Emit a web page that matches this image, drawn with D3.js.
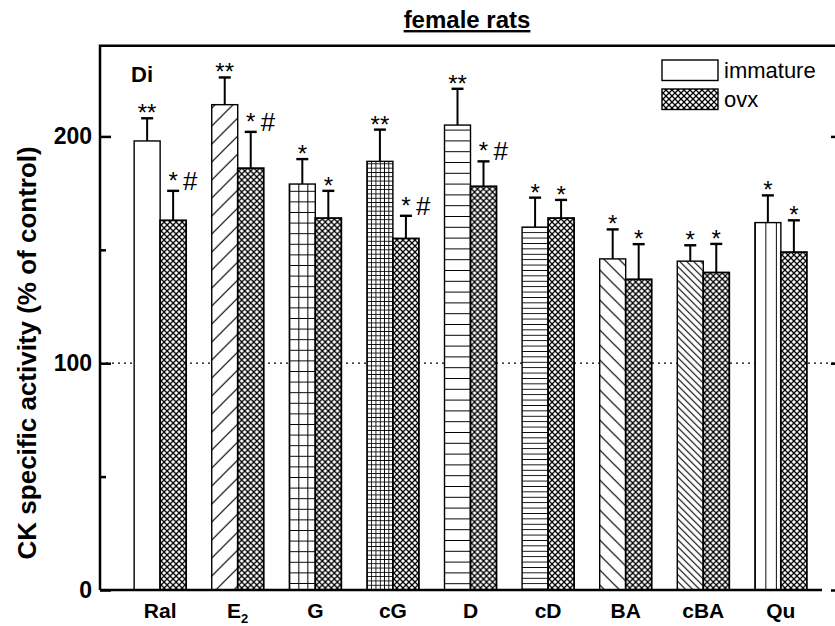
<!DOCTYPE html>
<html>
<head>
<meta charset="utf-8">
<script src="https://cdn.jsdelivr.net/npm/d3@7/dist/d3.min.js"></script>
<style>
  html, body { margin: 0; padding: 0; background: #fff; }
  svg { display: block; font-family: "Liberation Sans", Arial, sans-serif; }
</style>
</head>
<body>
<svg id="chart" width="835" height="626"></svg>
<script>
// Treatments on the x axis
const categories = ["Ral", "E2", "G", "cG", "D", "cD", "BA", "cBA", "Qu"];
const groups = ["immature", "ovx"];

// CK specific activity, % of control (mean and SD)
const immature    = [198, 214, 179, 189, 205, 160, 146, 145, 162];
const immatureErr = [10, 12, 11, 14, 16, 13, 13, 7, 12];
const ovx         = [163, 186, 164, 155, 178, 164, 137, 140, 149];
const ovxErr      = [13, 16, 12, 10, 11, 8, 15.5, 12.6, 14];

// significance marks
const immatureStars = ["**", "**", "*", "**", "**", "*", "*", "*", "*"];
const ovxStars      = ["*", "*", "*", "*", "*", "*", "*", "*", "*"];
const ovxHash       = [true, true, false, true, true, false, false, false, false];

const yTicks = [0, 100, 200];
const yMinorTicks = [50, 150];
const controlLevel = 100;

const svg = d3.select("#chart");
const plotL = 100, plotR = 841, plotT = 45.7, plotB = 590;

const y = d3.scaleLinear().domain([0, 240]).range([plotB, plotT]);
const x0 = d3.scaleBand().domain(categories).range([plotL, plotR])
  .paddingInner(0.33).paddingOuter(0.44);
const x1 = d3.scaleBand().domain(groups).range([0, x0.bandwidth()]);

// ---- fill patterns ----
const defs = svg.append("defs");
function pat(id, w, h, draw, sw, aa) {
  const p = defs.append("pattern").attr("id", id)
    .attr("patternUnits", "userSpaceOnUse").attr("width", w).attr("height", h);
  p.append("rect").attr("width", w).attr("height", h).attr("fill", "#fff");
  if (draw) p.append("path").attr("d", draw).attr("stroke", "#000")
    .attr("stroke-width", sw).attr("fill", "none")
    .attr("shape-rendering", aa ? "auto" : "crispEdges");
  return p;
}
pat("p0", 10, 10, null, 1);
pat("p1", 18, 18, "M-2,20L20,-2 M-2,2L2,-2 M16,20L20,16", 1.2, true);
pat("p2", 9, 10.6, "M0,0.5H9 M0.5,0V10.6", 1);
pat("p3", 4.3, 4.3, "M0,0.5H4.3 M0.5,0V4.3", 1);
pat("p4", 10, 10.8, "M0,0.5H10", 1.2);
pat("p5", 10, 5.4, "M0,0.5H10", 1.2);
pat("p6", 15, 15, "M-2,-2L17,17 M-2,13L2,17 M13,-2L17,2", 1.2, true);
pat("p7", 7, 7, "M-2,-2L9,9 M-2,5L2,9 M5,-2L9,2", 1.1, true);
pat("p8", 10.5, 10, "M0.5,0V10", 1.2);
pat("pov", 6, 6, "M-1,-1L7,7 M-1,7L7,-1", 1.3, true);

const catPattern = (i) => "url(#p" + i + ")";

// ---- control line ----
svg.append("line")
  .attr("x1", plotL).attr("x2", plotR)
  .attr("y1", y(controlLevel)).attr("y2", y(controlLevel))
  .attr("stroke", "#000").attr("stroke-width", 1.3)
  .attr("stroke-dasharray", "2,4");

// ---- bars ----
const rows = categories.map((c, i) => ({
  cat: c, i,
  bars: [
    { g: "immature", v: immature[i], e: immatureErr[i], s: immatureStars[i], hash: false },
    { g: "ovx", v: ovx[i], e: ovxErr[i], s: ovxStars[i], hash: ovxHash[i] }
  ]
}));

const gCat = svg.append("g").selectAll("g").data(rows).join("g")
  .attr("transform", d => `translate(${x0(d.cat)},0)`);

// error bars (drawn first so the bar outline covers their base)
gCat.each(function (d) {
  const g = d3.select(this);
  d.bars.forEach(b => {
    const cx = x1(b.g) + x1.bandwidth() / 2;
    g.append("line").attr("x1", cx).attr("x2", cx)
      .attr("y1", y(b.v)).attr("y2", y(b.v + b.e))
      .attr("stroke", "#000").attr("stroke-width", 2);
    g.append("line").attr("x1", cx - 6).attr("x2", cx + 6)
      .attr("y1", y(b.v + b.e)).attr("y2", y(b.v + b.e))
      .attr("stroke", "#000").attr("stroke-width", 2.4);
  });
});

gCat.each(function (d) {
  const g = d3.select(this);
  d.bars.forEach(b => {
    g.append("rect")
      .attr("x", x1(b.g)).attr("width", x1.bandwidth())
      .attr("y", y(b.v)).attr("height", y(0) - y(b.v))
      .attr("fill", b.g === "ovx" ? "url(#pov)" : catPattern(d.i))
      .attr("stroke", "#000")
      .attr("stroke-width", b.g === "ovx" ? 1.8 : 1.4);
  });
});

// significance marks
gCat.each(function (d) {
  const g = d3.select(this);
  d.bars.forEach(b => {
    const cx = x1(b.g) + x1.bandwidth() / 2;
    const et = y(b.v + b.e);
    const lift = b.hash ? 5 : 0;
    g.append("text").attr("x", cx).attr("y", et + 3 - lift)
      .attr("text-anchor", "middle").attr("font-size", 24).text(b.s);
    if (b.hash) {
      g.append("text").attr("x", cx + 10).attr("y", et - 1)
        .attr("text-anchor", "start").attr("font-size", 26).text("#");
    }
  });
});

// ---- axes ----
const axisW = 2.5;
function styleAxis(sel) {
  sel.select(".domain").remove();
  sel.selectAll(".tick line").attr("stroke", "#000").attr("stroke-width", axisW);
}
svg.append("g").attr("transform", `translate(${plotL},0)`)
  .call(d3.axisLeft(y).tickValues(yTicks).tickSize(-11).tickPadding(8))
  .call(styleAxis)
  .call(g => g.selectAll(".tick text")
    .attr("font-size", 23).attr("font-weight", "bold").attr("fill", "#000")
    .attr("font-family", "Liberation Sans, Arial, sans-serif"));
svg.append("g").attr("transform", `translate(${plotL},0)`)
  .call(d3.axisLeft(y).tickValues(yMinorTicks).tickSize(-6).tickFormat(""))
  .call(styleAxis);
svg.append("g").attr("transform", `translate(${plotR},0)`)
  .call(d3.axisRight(y).tickValues(yTicks).tickSize(-10).tickFormat(""))
  .call(styleAxis);
svg.append("g").attr("transform", `translate(${plotR},0)`)
  .call(d3.axisRight(y).tickValues(yMinorTicks).tickSize(-6).tickFormat(""))
  .call(styleAxis);

// frame
svg.append("path")
  .attr("d", `M${plotL},${plotB}V${plotT}H${plotR}V${plotB}`)
  .attr("fill", "none").attr("stroke", "#000").attr("stroke-width", axisW);
svg.append("line").attr("x1", plotL).attr("x2", 822)
  .attr("y1", plotB).attr("y2", plotB)
  .attr("stroke", "#000").attr("stroke-width", axisW);

// category labels
const xl = svg.append("g").selectAll("text").data(categories).join("text")
  .attr("x", d => x0(d) + x0.bandwidth() / 2)
  .attr("y", 618)
  .attr("text-anchor", "middle")
  .attr("font-size", 21).attr("font-weight", "bold");
xl.each(function (d) {
  const t = d3.select(this);
  if (d === "E2") {
    t.append("tspan").text("E");
    t.append("tspan").attr("font-size", 13).attr("dy", 5).text("2");
  } else {
    t.text(d);
  }
});

// y axis title
svg.append("text")
  .attr("transform", `translate(36,${(plotT + plotB) / 2 + 35}) rotate(-90)`)
  .attr("text-anchor", "middle")
  .attr("font-size", 26).attr("font-weight", "bold")
  .text("CK specific activity (% of control)");

// title
svg.append("text")
  .attr("x", 467).attr("y", 28)
  .attr("text-anchor", "middle")
  .attr("font-size", 24).attr("font-weight", "bold")
  .attr("text-decoration", "underline")
  .text("female rats");

// panel tag
svg.append("text").attr("x", 131).attr("y", 82)
  .attr("font-size", 22).attr("font-weight", "bold").text("Di");

// legend
const legend = svg.append("g");
groups.forEach((gname, k) => {
  const ly = 60 + k * 29;
  legend.append("rect")
    .attr("x", 662).attr("y", ly).attr("width", 56).attr("height", 20.5)
    .attr("fill", gname === "ovx" ? "url(#pov)" : "#fff")
    .attr("stroke", "#000").attr("stroke-width", 1.4);
  legend.append("text")
    .attr("x", 724).attr("y", ly + 18)
    .attr("font-size", 22).text(gname);
});
</script>
</body>
</html>
